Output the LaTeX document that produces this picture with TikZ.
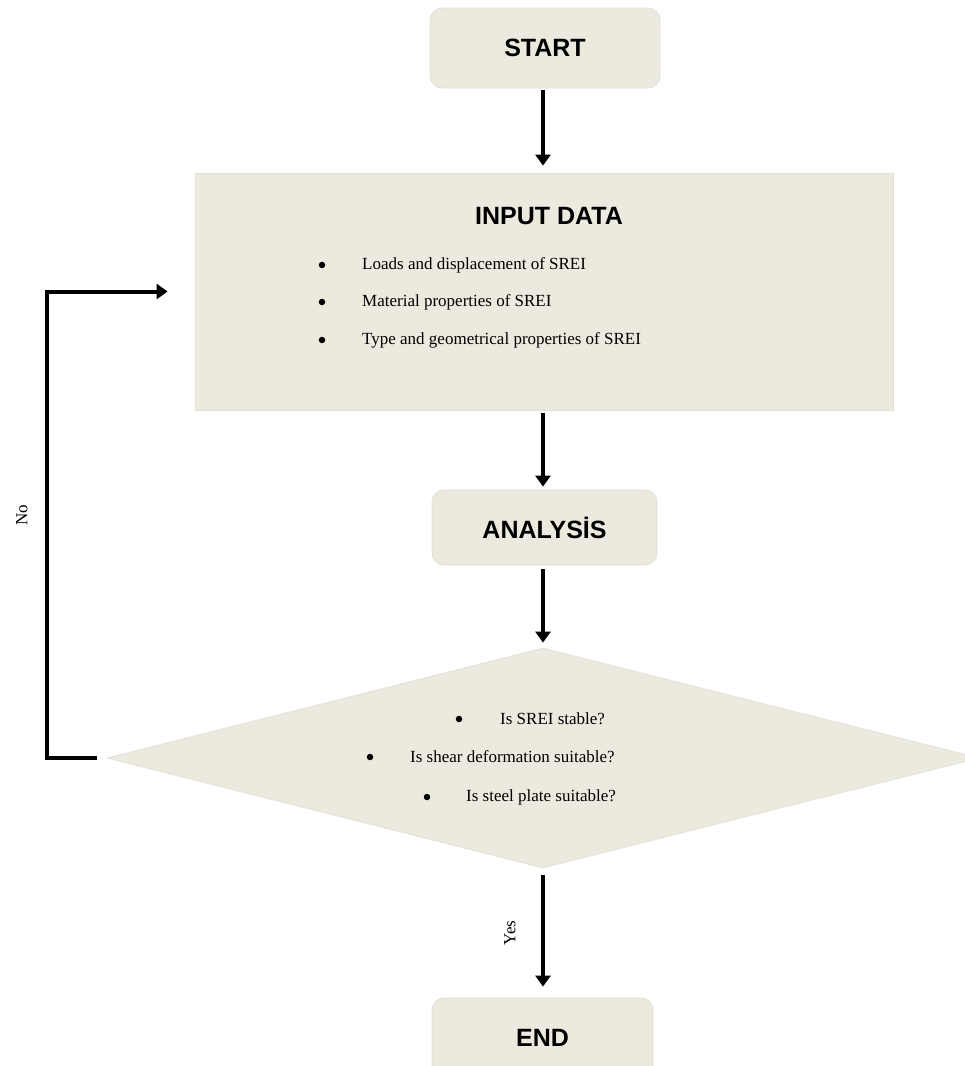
\documentclass[tikz,border=0pt]{standalone}
\usepackage{fontspec}
\setmainfont{Liberation Serif}
\newfontfamily\titlefont{Liberation Sans}
\usetikzlibrary{arrows.meta,shapes.geometric,calc}
\definecolor{boxfill}{HTML}{ECE9DF}
\definecolor{boxline}{HTML}{E3E0D6}
\begin{document}
\begin{tikzpicture}[x=1pt,y=-1pt,
  roundbox/.style={rectangle,rounded corners=12pt,fill=boxfill,draw=boxline,line width=0.8pt,inner sep=0pt,
    font=\titlefont\bfseries\fontsize{25}{30}\selectfont},
  sqbox/.style={rectangle,fill=boxfill,draw=boxline,line width=0.8pt,inner sep=0pt},
  decbox/.style={diamond,fill=boxfill,draw=boxline,line width=0.8pt,inner sep=0pt,aspect=4},
  titletext/.style={font=\titlefont\bfseries\fontsize{25}{30}\selectfont,inner sep=0pt},
  itemtext/.style={font=\fontsize{17}{20}\selectfont,inner sep=0pt,anchor=west},
  bul/.style={circle,fill=black,inner sep=0pt,minimum size=6.5pt},
  lbl/.style={font=\fontsize{17}{20}\selectfont,inner sep=0pt,rotate=90},
  arr/.style={line width=4pt,-{Triangle[length=11pt,width=15pt]},shorten <=2pt,shorten >=7pt}
]
\useasboundingbox (0,0) rectangle (965,1066);

\node[roundbox,minimum width=230pt,minimum height=80pt] (start) at (545,48) {START};
\node[sqbox,minimum width=698pt,minimum height=237pt] (input) at (544,291.5) {};
\node[titletext] (inputtitle) at (549,216) {INPUT DATA};
\node[bul] (b1) at (322,265) {};
\node[itemtext] (i1) at (362,265) {Loads and displacement of SREI};
\node[bul] (b2) at (322,302) {};
\node[itemtext] (i2) at (362,302) {Material properties of SREI};
\node[bul] (b3) at (322,340) {};
\node[itemtext] (i3) at (362,340) {Type and geometrical properties of SREI};

\node[roundbox,minimum width=225pt,minimum height=75pt] (analysis) at (544.5,527.5) {ANALYSİS};

\node[decbox,minimum width=872pt,minimum height=220pt] (dec) at (543,758) {};
\node[bul] (d1b) at (459,719) {};
\node[itemtext] (d1) at (500,719) {Is SREI stable?};
\node[bul] (d2b) at (370,757) {};
\node[itemtext] (d2) at (410,757) {Is shear deformation suitable?};
\node[bul] (d3b) at (427,797) {};
\node[itemtext] (d3) at (466,797) {Is steel plate suitable?};

\node[roundbox,minimum width=221pt,minimum height=80pt] (end) at (542.5,1038) {END};

\draw[arr] (start.south -| 543,0) -- (input.north -| 543,0);
\draw[arr,shorten <=3pt,shorten >=3pt] (input.south -| 543,0) -- (analysis.north -| 543,0);
\draw[arr,shorten <=4pt,shorten >=5pt] (analysis.south -| 543,0) -- (dec.north);
\draw[arr,shorten <=7pt,shorten >=11pt] (dec.south) -- (end.north -| 543,0);

\draw[line width=4pt,-{Triangle[length=11pt,width=15pt]}] ([xshift=-10pt]dec.west) -- ++(-50,0) |- ([xshift=-27pt]input.west);

\node[lbl] (no) at (22,515) {No};
\node[lbl] (yes) at (510,933) {Yes};
\end{tikzpicture}
\end{document}
